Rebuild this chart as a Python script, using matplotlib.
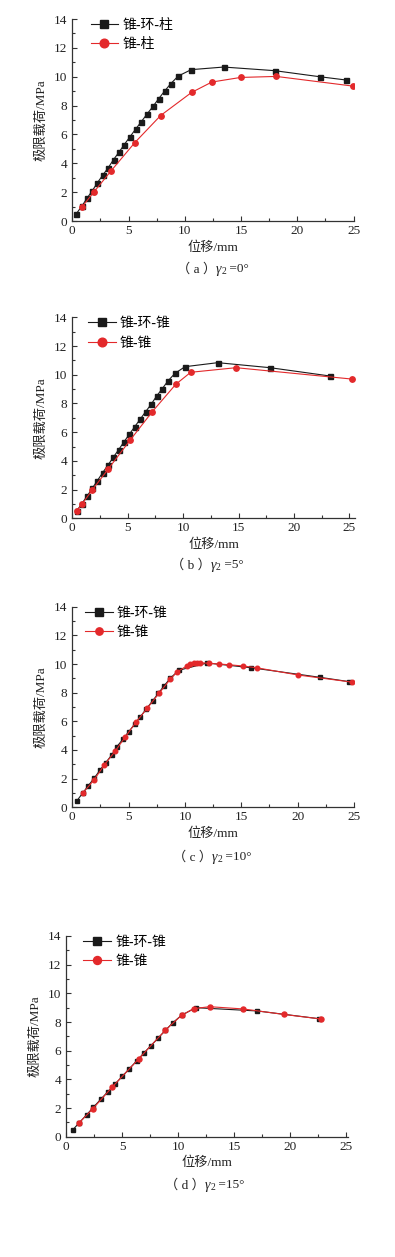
import numpy as np
import matplotlib
matplotlib.use('Agg')
import matplotlib.pyplot as plt
from matplotlib.ticker import MultipleLocator

FONTS = ['Liberation Serif', 'Noto Sans CJK SC', 'DejaVu Serif']
plt.rcParams['font.family'] = FONTS

W, H = 395, 1257

# (a) gamma2 = 0
a_hz_x = [0.36, 0.86, 1.30, 1.78, 2.22, 2.72, 3.20, 3.67, 4.15, 4.62, 5.12, 5.63, 6.13,
          6.64, 7.17, 7.67, 8.20, 8.74, 9.42, 10.57, 13.45, 17.98, 21.98, 24.35]
a_hz_y = [0.51, 1.04, 1.57, 2.10, 2.64, 3.19, 3.70, 4.26, 4.77, 5.30, 5.83, 6.37, 6.88,
          7.41, 7.94, 8.47, 9.00, 9.51, 10.05, 10.49, 10.67, 10.42, 10.00, 9.77]
a_z_x = [0.86, 1.90, 3.44, 5.54, 7.85, 10.60, 12.40, 14.96, 18.13, 24.94]
a_z_y = [0.97, 1.99, 3.47, 5.42, 7.31, 8.91, 9.63, 9.95, 10.02, 9.35]

# (b) gamma2 = 5
b_hz_x = [0.39, 0.84, 1.35, 1.80, 2.26, 2.74, 3.22, 3.70, 4.18, 4.66, 5.14, 5.63, 6.14,
          6.62, 7.13, 7.61, 8.12, 8.63, 9.27, 10.17, 13.12, 17.84, 23.25]
b_hz_y = [0.51, 1.00, 1.56, 2.09, 2.62, 3.18, 3.71, 4.25, 4.78, 5.32, 5.85, 6.38, 6.92,
          7.43, 7.96, 8.52, 9.03, 9.57, 10.10, 10.56, 10.84, 10.49, 9.91]
b_z_x = [0.39, 0.87, 1.80, 3.25, 5.20, 7.22, 9.33, 10.68, 14.77, 25.20]
b_z_y = [0.51, 0.98, 1.97, 3.44, 5.43, 7.43, 9.33, 10.17, 10.49, 9.70]

# (c) gamma2 = 10
c_hz_x = [0.42, 0.92, 1.42, 1.93, 2.46, 2.97, 3.50, 3.95, 4.48, 5.01, 5.55, 6.05, 6.56,
          7.12, 7.63, 8.16, 8.69, 9.44, 11.96, 15.88, 21.99, 24.57]
c_hz_y = [0.47, 0.99, 1.51, 2.02, 2.60, 3.12, 3.65, 4.23, 4.74, 5.28, 5.81, 6.33, 6.86,
          7.42, 7.95, 8.49, 9.00, 9.56, 10.07, 9.74, 9.07, 8.77]
c_z_x = [0.92, 1.93, 2.82, 3.80, 4.72, 5.64, 6.65, 7.69, 8.69, 9.29, 10.18, 10.42, 10.77,
         11.07, 11.31, 12.11, 13.03, 13.89, 15.16, 16.35, 20.06, 24.78]
c_z_y = [0.98, 1.91, 2.93, 3.91, 4.93, 5.93, 6.91, 7.95, 8.93, 9.44, 9.88, 9.98, 10.05,
         10.07, 10.09, 10.05, 10.00, 9.95, 9.86, 9.74, 9.23, 8.74]

# (d) gamma2 = 15
d_hz_x = [0.57, 1.16, 1.82, 2.41, 3.07, 3.69, 4.35, 5.00, 5.63, 6.28, 6.90, 7.56, 8.21,
          8.86, 9.52, 10.30, 11.58, 17.08, 22.59]
d_hz_y = [0.47, 0.98, 1.53, 2.05, 2.60, 3.12, 3.67, 4.21, 4.74, 5.28, 5.81, 6.35, 6.88,
          7.42, 7.95, 8.47, 9.00, 8.77, 8.23]
d_z_x = [1.16, 2.35, 4.08, 6.46, 8.86, 10.30, 11.37, 12.80, 15.83, 19.43, 22.77]
d_z_y = [0.98, 1.93, 3.44, 5.42, 7.44, 8.47, 8.93, 9.07, 8.91, 8.53, 8.21]

labels_a = ['锥-环-柱', '锥-柱']
labels_b = ['锥-环-锥', '锥-锥']
captions = [('（a）', '0°'), ('（b）', '5°'), ('（c）', '10°'), ('（d）', '15°')]

# pozycje osi w pikselach: lewo, prawo, gora, dol, xmax, legenda
panele = [
    (a_hz_x, a_hz_y, a_z_x, a_z_y, labels_a, (72.3, 353.6, 19.0, 221.0), 25.0, 0.065, 3.6, 3.9),
    (b_hz_x, b_hz_y, b_z_x, b_z_y, labels_b, (72.3, 355.0, 317.3, 518.3), 25.5, 0.055, 3.6, 3.9),
    (c_hz_x, c_hz_y, c_z_x, c_z_y, labels_b, (72.3, 354.0, 606.7, 807.3), 25.0, 0.045, 3.2, 3.3),
    (d_hz_x, d_hz_y, d_z_x, d_z_y, labels_b, (66.3, 348.3, 936.0, 1136.7), 25.2, 0.06, 3.4, 3.6),
]
caption_y = [269, 565, 857, 1185]
caption_x = [213, 207, 212, 205]

BLACK = '#1a1a1a'
RED = '#e3292b'

fig = plt.figure(figsize=(W / 100, H / 100), dpi=100)

for i, (hx, hy, zx, zy, labs, box, xmax, legx, ms1, ms2) in enumerate(panele):
    l, r, t, b = box
    ax = fig.add_axes([l / W, 1 - b / H, (r - l) / W, (b - t) / H])
    ax.plot(hx, hy, color=BLACK, lw=0.8, marker='s', ms=ms1, label=labs[0], zorder=3)
    ax.plot(zx, zy, color=RED, lw=0.8, marker='o', ms=ms2, label=labs[1], zorder=4)
    ax.set_xlim(0, xmax)
    ax.set_ylim(0, 14)
    ax.xaxis.set_major_locator(MultipleLocator(5))
    ax.xaxis.set_minor_locator(MultipleLocator(2.5))
    ax.yaxis.set_major_locator(MultipleLocator(2))
    ax.yaxis.set_minor_locator(MultipleLocator(1))
    ax.tick_params(which='both', direction='in', colors='#333333', labelcolor='#222222',
                   labelsize=9.5, width=0.8)
    ax.tick_params(which='major', length=3.5)
    ax.tick_params(which='minor', length=2)
    ax.tick_params(axis='x', pad=3)
    for s in ['top', 'right']:
        ax.spines[s].set_visible(False)
    for s in ['left', 'bottom']:
        ax.spines[s].set_linewidth(0.9)
        ax.spines[s].set_color('#333333')
    ax.set_xlabel('位移/mm', fontsize=9.5, color='#222222')
    ax.set_ylabel('极限载荷/MPa', fontsize=9.5, color='#222222')
    ax.xaxis.set_label_coords(0.5, -0.10)
    ax.yaxis.set_label_coords(-0.088, 0.5)
    ax.legend(loc='upper left', bbox_to_anchor=(legx, 1.0), frameon=False, fontsize=10,
              borderpad=0, borderaxespad=0, handlelength=2.0, handletextpad=0.3,
              labelspacing=0.45, markerscale=1.6)

# podpisy (a)-(d)
renderer = fig.canvas.get_renderer()
for i, (lit, kat) in enumerate(captions):
    yp = caption_y[i]
    czesci = [('（ ' + lit[1] + ' ）', 9.5, 'normal', 0),
              ('γ', 10, 'italic', 0),
              ('2', 7, 'normal', 2.5),
              (' =' + kat, 9.5, 'normal', 0)]
    teksty = []
    for s, size, styl, dy in czesci:
        tt = fig.text(0, 1 - (yp + dy) / H, s, fontsize=size, fontstyle=styl,
                      va='center', ha='left', color='#222222')
        teksty.append(tt)
    szer = [tt.get_window_extent(renderer).width for tt in teksty]
    x = caption_x[i] - sum(szer) / 2
    for tt, w in zip(teksty, szer):
        tt.set_x(x / W)
        x += w

fig.savefig('out.png', dpi=100)
